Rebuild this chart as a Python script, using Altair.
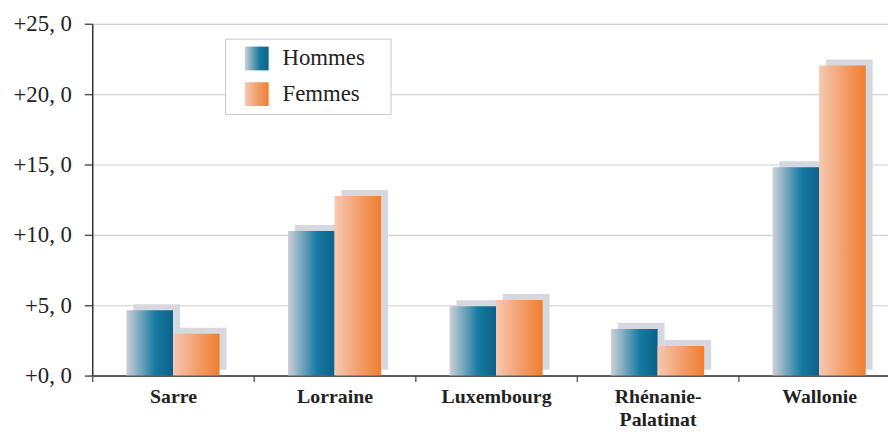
import altair as alt
import pandas as pd

regions = ["Sarre", "Lorraine", "Luxembourg", "Rhénanie-Palatinat", "Wallonie"]
hommes = [4.65, 10.28, 4.93, 3.31, 14.81]
femmes = [2.97, 12.77, 5.37, 2.11, 22.04]
series = ["Hommes", "Femmes"]
y_ticks = [0, 5, 10, 15, 20, 25]

rows = []
for r, h, f in zip(regions, hommes, femmes):
    rows.append({"region": r, "sexe": "Hommes", "valeur": h})
    rows.append({"region": r, "sexe": "Femmes", "valeur": f})
df = pd.DataFrame(rows)

grad_h = ("{gradient: 'linear', x1: 0, y1: 0, x2: 1, y2: 0, stops: ["
          "{offset: 0, color: '#cdd0d7'}, {offset: 0.62, color: '#157aa1'}, "
          "{offset: 1, color: '#0d6189'}]}")
grad_f = ("{gradient: 'linear', x1: 0, y1: 0, x2: 1, y2: 0, stops: ["
          "{offset: 0, color: '#f6c8b1'}, {offset: 0.55, color: '#f29d68'}, "
          "{offset: 1, color: '#f07e2e'}]}")

SERIF = "Liberation Serif"

x_enc = alt.X(
    "region:N",
    sort=regions,
    scale=alt.Scale(range=[0, 815], paddingInner=0, paddingOuter=0),
    axis=alt.Axis(
        title=None,
        labelAngle=0,
        labelFont=SERIF,
        labelFontSize=20,
        labelFontWeight="bold",
        labelColor="#222222",
        labelPadding=5,
        labelLineHeight=23,
        labelExpr="datum.value == 'Rhénanie-Palatinat' ? ['Rhénanie-', 'Palatinat'] : datum.value",
        domainColor="#333333",
        domainWidth=1.5,
        tickColor="#666666",
        tickSize=6,
        tickWidth=1.5,
        tickBand="extent",
        grid=False,
    ),
)
y_enc = alt.Y(
    "valeur:Q",
    scale=alt.Scale(domain=[0, 25], nice=False),
    axis=alt.Axis(
        title=None,
        values=y_ticks,
        labelExpr="'+' + replace(format(datum.value, '.1f'), '.', ', ')",
        labelFont=SERIF,
        labelFontSize=23,
        labelColor="#222222",
        labelPadding=13,
        domainColor="#333333",
        domainWidth=1.5,
        tickColor="#555555",
        tickSize=8,
        tickWidth=1.5,
        gridColor="#cfd0d4",
        gridWidth=1.2,
    ),
)

shadow = alt.Chart(df).mark_bar(color="#d5d8df", yOffset=-6).encode(
    x=x_enc,
    xOffset=alt.XOffset(
        "sexe:N", sort=series,
        scale=alt.Scale(paddingOuter=0.734, paddingInner=0, align=0.6014),
    ),
    y=y_enc,
)

bars = alt.Chart(df).mark_bar(strokeWidth=0).encode(
    x=x_enc,
    xOffset=alt.XOffset(
        "sexe:N", sort=series, scale=alt.Scale(paddingOuter=0.734, paddingInner=0)
    ),
    y=y_enc,
    color=alt.Color(
        "sexe:N",
        sort=series,
        scale=alt.Scale(domain=series, range=[alt.ExprRef(expr=grad_h), alt.ExprRef(expr=grad_f)]),
        legend=alt.Legend(
            title=None,
            orient="none",
            legendX=134,
            legendY=15,
            padding=8,
            symbolOffset=12,
            fillColor="white",
            strokeColor="#c8c8c8",
            symbolType="square",
            symbolSize=576,
            symbolStrokeWidth=0,
            labelFont=SERIF,
            labelFontSize=23,
            labelColor="#222222",
            labelOffset=14,
            rowPadding=12,
            labelExpr="datum.label + '\u2800'",
        ),
    ),
)

chart = (
    alt.layer(shadow, bars)
    .resolve_scale(xOffset="independent")
    .properties(
        width=803,
        height=355,
        autosize=alt.AutoSizeParams(type="none"),
        padding={"left": 85, "top": 14, "right": 0, "bottom": 56},
    )
    .configure_view(stroke=None)
    .configure(background="white")
)

chart.save("out.html", embed_options={"renderer": "svg", "actions": False})
